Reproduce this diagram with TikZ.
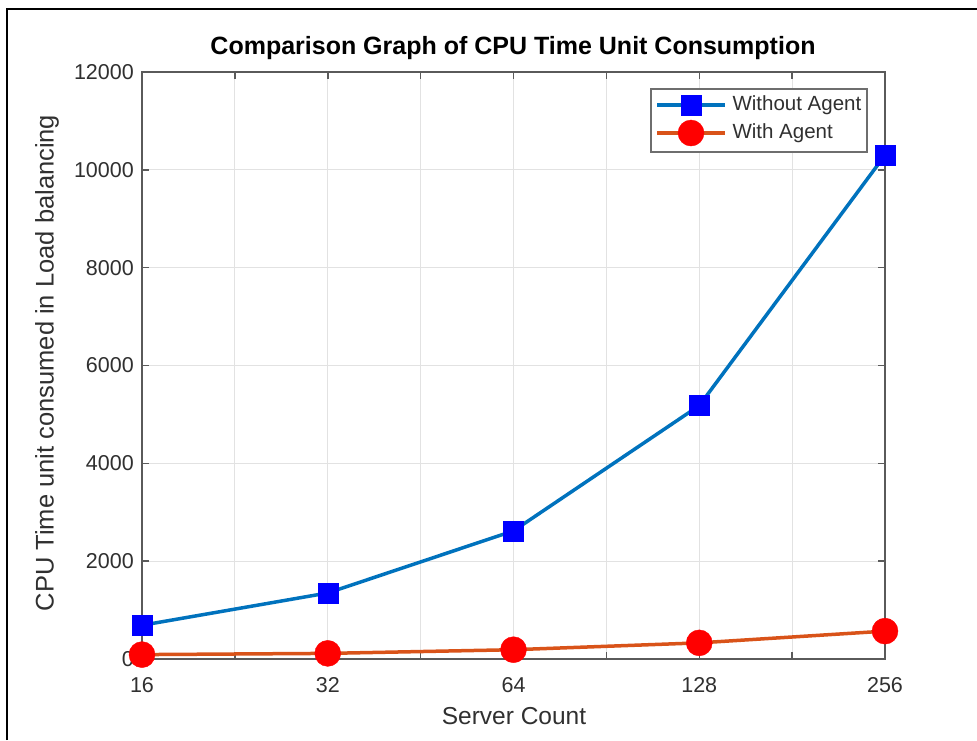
\documentclass[tikz,border=0pt]{standalone}
\usepackage{fontspec}
\setmainfont{Liberation Sans}
\usepackage{xcolor}
\definecolor{lineblue}{HTML}{0072BD}
\definecolor{lineorange}{HTML}{D95319}
\definecolor{axisgray}{HTML}{5A5A5A}
\definecolor{gridgray}{HTML}{E2E2E2}
\definecolor{legendgray}{HTML}{6E6E6E}
\definecolor{ticktext}{HTML}{303030}

\begin{document}
\begin{tikzpicture}[x=1pt, y=-1pt,
    gridline/.style={gridgray, line width=1pt},
    axisline/.style={axisgray, line width=1.5pt},
    ticklabel/.style={text=ticktext, font=\fontsize{21.5}{24}\selectfont, inner sep=0pt},
    sqmark/.style={rectangle, draw=blue, fill=blue, minimum size=20pt, inner sep=0pt},
    dotmark/.style={circle, draw=red, fill=red, minimum size=26pt, inner sep=0pt},
    noagent/.style={lineblue, line width=3.5pt, line join=round},
    withagent/.style={lineorange, line width=3.5pt, line join=round}]

    \useasboundingbox (0,0) rectangle (977,740);
    % Outer frame
    \draw[line width=2pt] (7,740) -- (7,9) -- (977,9);

    % Grid
    \foreach \k in {1,...,7} \draw[gridline] (142+92.875*\k,72) -- (142+92.875*\k,659);
    \foreach \k in {1,...,5} \draw[gridline] (142,659-97.833*\k) -- (885,659-97.833*\k);

    % Axes box with ticks
    \draw[axisline] (142,72) rectangle (885,659);
    \foreach \k in {0,...,8} {
        \draw[axisline] (142+92.875*\k,659) -- ++(0,-7);
        \draw[axisline] (142+92.875*\k,72) -- ++(0,7);
    }
    \foreach \k in {0,...,6} {
        \draw[axisline] (142,659-97.833*\k) -- ++(7,0);
        \draw[axisline] (885,659-97.833*\k) -- ++(-7,0);
    }

    % Tick labels
    \foreach \lab [count=\k from 0] in {16,32,64,128,256}
        \node[ticklabel, anchor=north] (xt\k) at (142+185.75*\k,677) {\lab};
    \foreach \lab [count=\k from 0] in {0,2000,...,12000}
        \node[ticklabel, anchor=east] (yt\k) at (134,659-97.833*\k) {\lab};

    % Title and axis labels
    \node[font=\bfseries\fontsize{25}{28}\selectfont] (title) at (513,48) {Comparison Graph of CPU Time Unit Consumption};
    \node[text=ticktext, font=\fontsize{24.5}{28}\selectfont] (xlab) at (514,716) {Server Count};
    \node[text=ticktext, font=\fontsize{25.5}{28}\selectfont, rotate=90] (ylab) at (47,363) {CPU Time unit consumed in Load balancing};

    % Data points (x: log2 steps, y: CPU time units)
    \begin{scope}[shift={(142,659)}, x=185.75pt, y=0.048917pt]
        \foreach \v [count=\k from 0] in {690,1350,2620,5180,10300}
            \coordinate (w\k) at (\k,\v);
        \foreach \v [count=\k from 0] in {90,115,190,330,570}
            \coordinate (a\k) at (\k,\v);
    \end{scope}

    % Without agent
    \draw[noagent] (w0) -- (w1) -- (w2) -- (w3) -- (w4);
    \foreach \k in {0,...,4} \node[sqmark] (wm\k) at (w\k) {};

    % With agent
    \draw[withagent] (a0) -- (a1) -- (a2) -- (a3) -- (a4);
    \foreach \k in {0,...,4} \node[dotmark] (am\k) at (a\k) {};

    % Legend
    \node[draw=legendgray, line width=1.5pt, fill=white, minimum width=216pt, minimum height=63pt, anchor=north west] (legend) at (650,88) {};
    \coordinate (lw1) at (657,105);
    \coordinate (lw2) at (725,105);
    \coordinate (la1) at (657,133);
    \coordinate (la2) at (725,133);
    \draw[noagent] (lw1) -- (lw2);
    \node[sqmark] (lwm) at (691,105) {};
    \node[anchor=west, text=ticktext, font=\fontsize{20.5}{24}\selectfont] (lwtext) at (729,105) {Without Agent};
    \draw[withagent] (la1) -- (la2);
    \node[dotmark] (lam) at (691,133) {};
    \node[anchor=west, text=ticktext, font=\fontsize{20.5}{24}\selectfont] (latext) at (729,133) {With Agent};

\end{tikzpicture}
\end{document}
